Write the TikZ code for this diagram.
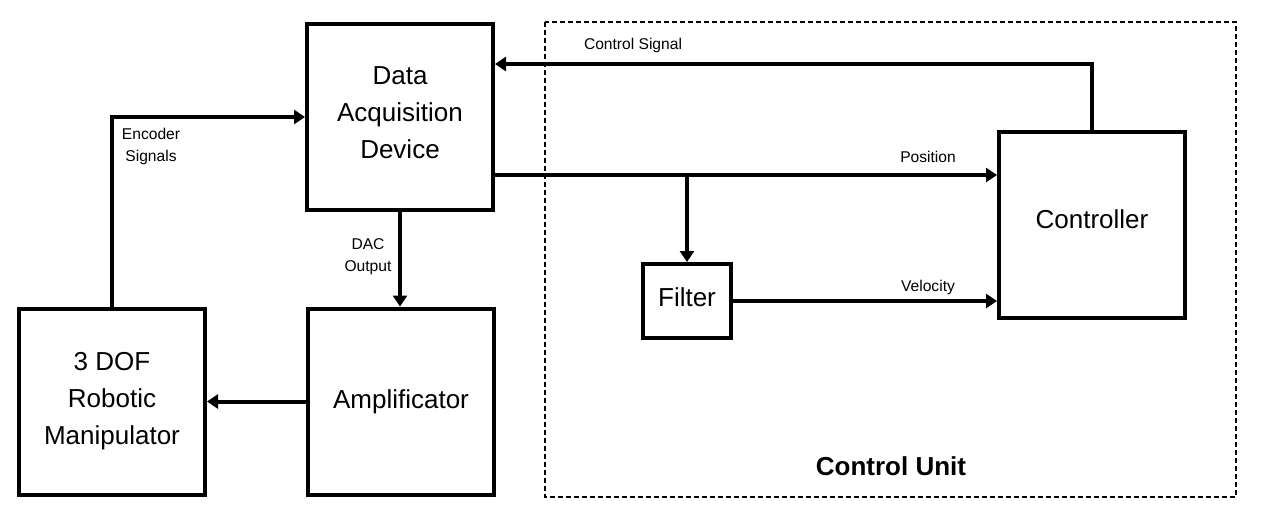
\documentclass[tikz,border=0pt]{standalone}
\usepackage{fontspec}
\setmainfont{Liberation Sans}
\usetikzlibrary{arrows.meta}
\begin{document}
\begin{tikzpicture}[x=0.5pt,y=0.5pt,yscale=-1,
  blk/.style={draw, line width=2pt, inner sep=0pt, align=center, font=\fontsize{13}{18.5}\selectfont},
  lbl/.style={inner sep=0pt, align=center, font=\fontsize{7.8}{11}\selectfont},
  sig/.style={line width=2pt, -{Triangle[length=5.5pt,width=7pt]}}]
\useasboundingbox (0,0) rectangle (1268,521);

%Shape: Rectangle (control unit)
\draw [line width=0.8pt, dash pattern=on 2.5pt off 1.5pt] (545,22) rectangle (1236,497);

%Shape: Rectangle
\node [blk, minimum width=93pt, minimum height=93pt, text depth=4pt] (daq) at (400,117) {Data\\Acquisition\\Device};
%Shape: Rectangle
\node [blk, minimum width=93pt, minimum height=93pt] (robot) at (112,401.5) {3 DOF\\Robotic\\Manipulator};
%Shape: Rectangle
\node [blk, minimum width=93pt, minimum height=93pt] (amp) at (401,401.5) {Amplificator};
%Shape: Rectangle
\node [blk, minimum width=93pt, minimum height=93pt] (ctrl) at (1092,225) {\raisebox{3pt}[\height][\depth]{Controller}};
%Shape: Rectangle
\node [blk, minimum width=44pt, minimum height=37pt] (filt) at (687,301) {\raisebox{2pt}[\height][\depth]{Filter}};

\coordinate (cs) at (1092,64);
\coordinate (tap) at (687,175);

%Straight Lines
\draw [sig] (robot.north) |- (daq.west);
\draw [sig] (daq.south) -- (daq.south |- amp.north);
\draw [sig] (amp.west) -- (robot.east);
\draw [sig] (ctrl.north) -- (cs) -- (cs -| daq.east);
\draw [sig] (daq.east |- tap) -- (ctrl.west |- tap);
\draw [sig] (tap) -- (filt.north);
\draw [sig] (filt.east) -- (ctrl.west |- filt.east);

% Text Node
\node [lbl] (enclbl) at (151,146) {Encoder\\Signals};
% Text Node
\node [lbl] (daclbl) at (368,257) {DAC\\Output};
% Text Node
\node [lbl] (cslbl) at (633,45) {Control Signal};
% Text Node
\node [lbl] (poslbl) at (928,157) {Position};
% Text Node
\node [lbl] (vellbl) at (928,287) {Velocity};
% Text Node
\node [inner sep=0pt, font=\bfseries\fontsize{13}{15}\selectfont] (cu) at (891,466) {Control Unit};

\end{tikzpicture}
\end{document}
